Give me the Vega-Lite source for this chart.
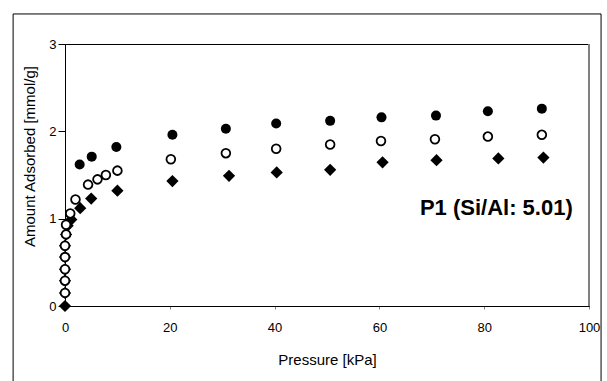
{
  "$schema": "https://vega.github.io/schema/vega-lite/v6.json",
  "width": 524,
  "height": 262,
  "autosize": {"type": "none"},
  "padding": {"left": 65, "top": 44, "right": 18, "bottom": 75},
  "background": "#ffffff",
  "config": {
    "font": "Liberation Sans",
    "view": {"stroke": "#000000", "strokeWidth": 1},
    "axis": {"grid": false, "domainColor": "#000000", "labelColor": "#000000", "titleColor": "#000000", "titleFontWeight": "normal"}
  },
  "datasets": {
    "isotherms": [
      {"series": "s1", "pressure": 2.8, "amount": 1.62},
      {"series": "s1", "pressure": 5.1, "amount": 1.71},
      {"series": "s1", "pressure": 9.8, "amount": 1.82},
      {"series": "s1", "pressure": 20.5, "amount": 1.96},
      {"series": "s1", "pressure": 30.7, "amount": 2.03},
      {"series": "s1", "pressure": 40.3, "amount": 2.09},
      {"series": "s1", "pressure": 50.6, "amount": 2.12},
      {"series": "s1", "pressure": 60.4, "amount": 2.16},
      {"series": "s1", "pressure": 70.8, "amount": 2.18},
      {"series": "s1", "pressure": 80.7, "amount": 2.23},
      {"series": "s1", "pressure": 91.0, "amount": 2.26},

      {"series": "s3", "pressure": 0.0, "amount": 0.0},
      {"series": "s3", "pressure": 0.0, "amount": 0.15},
      {"series": "s3", "pressure": 0.0, "amount": 0.29},
      {"series": "s3", "pressure": 0.0, "amount": 0.42},
      {"series": "s3", "pressure": 0.0, "amount": 0.56},
      {"series": "s3", "pressure": 0.0, "amount": 0.69},
      {"series": "s3", "pressure": 0.2, "amount": 0.82},
      {"series": "s3", "pressure": 0.5, "amount": 0.92},
      {"series": "s3", "pressure": 1.2, "amount": 0.99},
      {"series": "s3", "pressure": 2.9, "amount": 1.12},
      {"series": "s3", "pressure": 5.0, "amount": 1.23},
      {"series": "s3", "pressure": 10.0, "amount": 1.32},
      {"series": "s3", "pressure": 20.5, "amount": 1.43},
      {"series": "s3", "pressure": 31.3, "amount": 1.49},
      {"series": "s3", "pressure": 40.4, "amount": 1.53},
      {"series": "s3", "pressure": 50.6, "amount": 1.56},
      {"series": "s3", "pressure": 60.6, "amount": 1.645},
      {"series": "s3", "pressure": 70.9, "amount": 1.67},
      {"series": "s3", "pressure": 82.7, "amount": 1.69},
      {"series": "s3", "pressure": 91.3, "amount": 1.70},

      {"series": "s2", "pressure": 0.0, "amount": 0.15},
      {"series": "s2", "pressure": 0.0, "amount": 0.29},
      {"series": "s2", "pressure": 0.0, "amount": 0.42},
      {"series": "s2", "pressure": 0.0, "amount": 0.56},
      {"series": "s2", "pressure": 0.0, "amount": 0.69},
      {"series": "s2", "pressure": 0.2, "amount": 0.82},
      {"series": "s2", "pressure": 0.2, "amount": 0.93},
      {"series": "s2", "pressure": 1.0, "amount": 1.06},
      {"series": "s2", "pressure": 2.0, "amount": 1.22},
      {"series": "s2", "pressure": 4.4, "amount": 1.39},
      {"series": "s2", "pressure": 6.2, "amount": 1.45},
      {"series": "s2", "pressure": 7.8, "amount": 1.50},
      {"series": "s2", "pressure": 10.0, "amount": 1.55},
      {"series": "s2", "pressure": 20.2, "amount": 1.68},
      {"series": "s2", "pressure": 30.7, "amount": 1.75},
      {"series": "s2", "pressure": 40.3, "amount": 1.80},
      {"series": "s2", "pressure": 50.6, "amount": 1.85},
      {"series": "s2", "pressure": 60.3, "amount": 1.89},
      {"series": "s2", "pressure": 70.6, "amount": 1.91},
      {"series": "s2", "pressure": 80.7, "amount": 1.94},
      {"series": "s2", "pressure": 91.0, "amount": 1.96}
    ]
  },
  "layer": [
    {
      "data": {"values": [{"part": "frame"}]},
      "mark": {"type": "rect", "fill": null, "fillOpacity": 0, "stroke": "#000000", "strokeWidth": 1, "clip": false},
      "encoding": {
        "x": {
          "datum": -9.9, "type": "quantitative",
          "scale": {"domain": [0, 100], "nice": false, "zero": false},
          "axis": {
            "title": "Pressure [kPa]", "values": [0, 20, 40, 60, 80, 100], "format": "d",
            "tickColor": "#808080", "tickSize": 3, "labelFontSize": 13, "labelPadding": 12,
            "titleFontSize": 15, "titlePadding": 18, "labelFlush": false
          }
        },
        "x2": {"datum": 102.3},
        "y": {
          "datum": 3.344, "type": "quantitative",
          "scale": {"domain": [0, 3], "nice": false, "zero": false},
          "axis": {
            "title": "Amount Adsorbed [mmol/g]", "values": [0, 1, 2, 3], "format": "d",
            "tickColor": "#000000", "tickSize": 7, "labelFontSize": 13, "labelPadding": 2,
            "titleFontSize": 15, "titleX": -28, "titleY": 112, "labelFlush": false
          }
        },
        "y2": {"datum": -1}
      }
    },
    {
      "data": {"values": [{"part": "edge"}]},
      "mark": {"type": "rule", "color": "#808080", "strokeWidth": 2},
      "encoding": {
        "x": {"datum": 100, "type": "quantitative"},
        "y": {"datum": 0, "type": "quantitative"},
        "y2": {"datum": 3}
      }
    },
    {
      "data": {"name": "isotherms"},
      "transform": [{"filter": "datum.series === 's1'"}],
      "mark": {"type": "point", "shape": "circle", "filled": true, "fill": "#000000", "size": 100, "opacity": 1, "clip": false},
      "encoding": {
        "x": {"field": "pressure", "type": "quantitative"},
        "y": {"field": "amount", "type": "quantitative"}
      }
    },
    {
      "data": {"name": "isotherms"},
      "transform": [{"filter": "datum.series === 's3'"}],
      "mark": {"type": "point", "shape": "diamond", "filled": true, "fill": "#000000", "size": 150, "opacity": 1, "clip": false},
      "encoding": {
        "x": {"field": "pressure", "type": "quantitative"},
        "y": {"field": "amount", "type": "quantitative"}
      }
    },
    {
      "data": {"name": "isotherms"},
      "transform": [{"filter": "datum.series === 's2'"}],
      "mark": {"type": "point", "shape": "circle", "filled": false, "fill": "#ffffff", "fillOpacity": 1, "stroke": "#000000", "strokeWidth": 1.8, "size": 76, "opacity": 1, "clip": false},
      "encoding": {
        "x": {"field": "pressure", "type": "quantitative"},
        "y": {"field": "amount", "type": "quantitative"}
      }
    },
    {
      "data": {"values": [{"label": "P1 (Si/Al: 5.01)"}]},
      "mark": {"type": "text", "align": "right", "baseline": "middle", "font": "Liberation Sans", "fontSize": 22, "fontWeight": "bold", "color": "#000000"},
      "encoding": {
        "text": {"field": "label", "type": "nominal"},
        "x": {"datum": 96.9, "type": "quantitative"},
        "y": {"datum": 1.12, "type": "quantitative"}
      }
    }
  ]
}
